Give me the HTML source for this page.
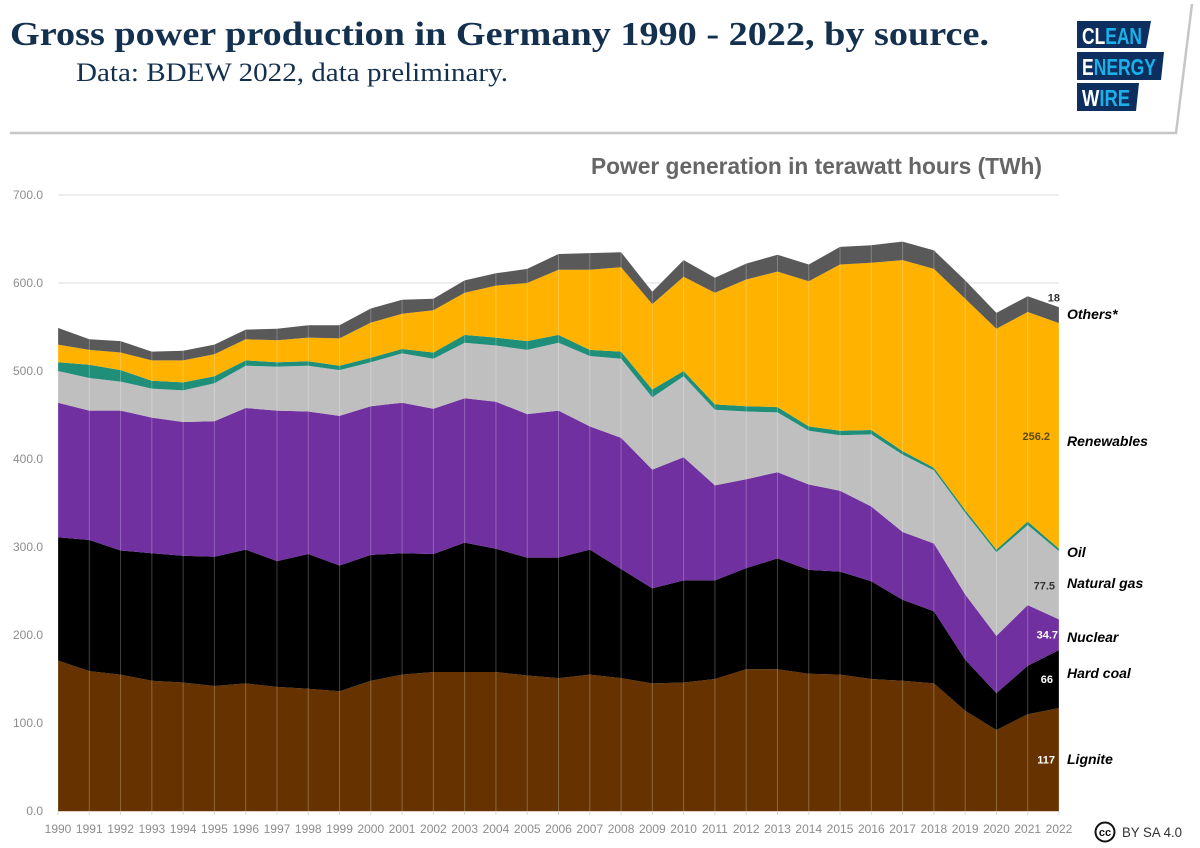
<!DOCTYPE html>
<html lang="en">
<head>
<meta charset="utf-8">
<title>Gross power production in Germany 1990 - 2022, by source</title>
<style>
html,body{margin:0;padding:0;background:#fff;}
body{width:1200px;height:848px;overflow:hidden;}
svg{display:block;}
text{font-family:"Liberation Sans",sans-serif;}
.serif{font-family:"Liberation Serif",serif;}
.name{font-weight:700;font-style:italic;font-size:14px;fill:#000;}
.tick{font-size:12px;fill:#8c8c8c;}
.logo{font-weight:700;font-size:23px;}
</style>
</head>
<body>
<svg id="chart" width="1200" height="848" viewBox="0 0 1200 848" xmlns="http://www.w3.org/2000/svg">
  <g>
    <polyline points="10,133 1176,133 1192,4" fill="none" stroke="#c6c6c6" stroke-width="2.5"/>
    <text class="serif" x="10" y="45" font-size="34" font-weight="700" fill="#14304f" textLength="979" lengthAdjust="spacingAndGlyphs">Gross power production in Germany 1990 - 2022, by source.</text>
    <text class="serif" x="76" y="81" font-size="26" fill="#14304f" textLength="432" lengthAdjust="spacingAndGlyphs">Data: BDEW 2022, data preliminary.</text>
  </g>
  <g>
    <polygon points="1077,21 1151,21 1146,48 1077,48" fill="#0c2f5f"/>
    <text class="logo" x="1082" y="44" textLength="60" lengthAdjust="spacingAndGlyphs"><tspan fill="#fff">CL</tspan><tspan fill="#1cb0e8">EAN</tspan></text>
    <polygon points="1077,52 1164,52 1161,80 1077,80" fill="#0c2f5f"/>
    <text class="logo" x="1082" y="75" textLength="74" lengthAdjust="spacingAndGlyphs"><tspan fill="#fff">E</tspan><tspan fill="#1cb0e8">NERGY</tspan></text>
    <polygon points="1077,83 1139,83 1136,111 1077,111" fill="#0c2f5f"/>
    <text class="logo" x="1082" y="106" textLength="48" lengthAdjust="spacingAndGlyphs"><tspan fill="#fff">W</tspan><tspan fill="#1cb0e8">IRE</tspan></text>
  </g>
  <text x="591" y="174" font-size="23" font-weight="700" fill="#666666" textLength="451" lengthAdjust="spacingAndGlyphs">Power generation in terawatt hours (TWh)</text>
  <g id="grid"></g>
  <g id="yaxis"></g>
  <g id="areas"></g>
  <g id="yearlines"></g>
  <g id="xaxis"></g>
  <g id="values"></g>
  <g id="names"></g>
  <g>
    <circle cx="1105" cy="832" r="9.5" fill="#fff" stroke="#111" stroke-width="2"/>
    <text x="1105" y="836" font-size="11" font-weight="700" text-anchor="middle" fill="#111">cc</text>
    <text x="1122" y="837" font-size="14" fill="#333" textLength="60" lengthAdjust="spacingAndGlyphs">BY SA 4.0</text>
  </g>
</svg>
<script>
const years = [1990,1991,1992,1993,1994,1995,1996,1997,1998,1999,2000,2001,2002,2003,2004,2005,2006,2007,2008,2009,2010,2011,2012,2013,2014,2015,2016,2017,2018,2019,2020,2021,2022];
const yTicks = [0,100,200,300,400,500,600,700];
const lignite = [171,159,155,148,146,142,145,141,139,136,148,155,158,158,158,154,151,155,151,145,146,150,161,161,156,155,150,148,145,114,92,110,117];
const hardCoal = [140,149,141,145,144,147,152,143,153,143,143,138,134,147,140,134,137,142,124,108,116,112,115,126,118,117,111,92,82,58,42,55,66];
const nuclear = [153,147,159,154,152,154,161,171,162,170,169,171,165,164,167,163,167,140,149,135,140,108,101,98,97,92,85,77,77,74,65,69,34.7];
const naturalGas = [36,37,33,33,36,43,48,50,52,52,50,56,57,63,64,73,77,80,90,82,92,86,77,68,61,63,82,88,83,93,95,91,77.5];
const oil = [10,15,13,9,9,8,6,5,5,5,5,5,7,9,9,10,9,7,8,9,6,6,6,6,5,5,5,4,3,3,3,4,3];
const renewables = [20,17,20,23,25,25,24,25,27,31,40,40,48,48,59,66,74,91,96,97,107,127,144,154,165,189,190,217,226,240,251,238,256.2];
const others = [19,12,13,10,11,11,11,13,14,15,16,16,13,14,14,16,18,19,17,14,19,17,18,19,19,20,20,21,21,21,18,18,18];

const NS = 'http://www.w3.org/2000/svg';
const x = i => 58 + i * (1059 - 58) / (years.length - 1);
const y = v => 811 - v * (811 - 195) / 700;
const make = (tag, parentId) => document.getElementById(parentId).appendChild(document.createElementNS(NS, tag));

yTicks.forEach(t => {
  if (t > 0) {
    const g = make('line', 'grid');
    
    
    g.setAttribute('x1', 58);
    g.setAttribute('x2', 1059);
    g.setAttribute('y1', y(t));
    g.setAttribute('y2', y(t));
    g.setAttribute('stroke', '#dcdcdc');
    g.setAttribute('stroke-width', '1');
  }
  const l = make('text', 'yaxis');
  
  
  l.setAttribute('class', 'tick');
  l.setAttribute('x', 43);
  l.setAttribute('y', y(t) + 4);
  l.setAttribute('text-anchor', 'end');
  l.textContent = t.toFixed(1);
});

const series = [
  {key:'lignite', vals:lignite, color:'#663300', label:'117', lc:'#fff', lx:1055, name:'Lignite', ny:764},
  {key:'hard-coal', vals:hardCoal, color:'#000000', label:'66', lc:'#fff', lx:1053, name:'Hard coal', ny:678},
  {key:'nuclear', vals:nuclear, color:'#7030a0', label:'34.7', lc:'#fff', lx:1058, name:'Nuclear', ny:642},
  {key:'natural-gas', vals:naturalGas, color:'#bfbfbf', label:'77.5', lc:'#333', lx:1055, name:'Natural gas', ny:588},
  {key:'oil', vals:oil, color:'#1f8f7a', label:'', lc:'#333', lx:1055, name:'Oil', ny:557},
  {key:'renewables', vals:renewables, color:'#ffb300', label:'256.2', lc:'#5c4a14', lx:1050, name:'Renewables', ny:446},
  {key:'others', vals:others, color:'#595959', label:'18', lc:'#333', lx:1060, name:'Others*', ny:319}
];

let base = years.map(() => 0);
series.forEach(s => {
  const top = base.map((b, i) => b + s.vals[i]);
  const pts = top.map((v, i) => x(i).toFixed(1) + ',' + y(v).toFixed(1));
  for (let i = years.length - 1; i >= 0; i--) pts.push(x(i).toFixed(1) + ',' + y(base[i]).toFixed(1));
  const p = make('polygon', 'areas');
  
  
  p.setAttribute('points', pts.join(' '));
  p.setAttribute('fill', s.color);

  const last = years.length - 1;
  if (s.label) {
    const t = make('text', 'values');
    
    
    t.setAttribute('x', s.lx);
    const mid = y((base[last] + top[last]) / 2);
    t.setAttribute('y', (s.key === 'others' ? y(top[last]) - 6 : mid + 4));
    t.setAttribute('text-anchor', 'end');
    t.setAttribute('font-size', '11');
    t.setAttribute('font-weight', '700');
    t.setAttribute('fill', s.lc);
    t.textContent = s.label;
  }
  const n = make('text', 'names');
  
  
  n.setAttribute('class', 'name');
  n.setAttribute('x', 1067);
  n.setAttribute('y', s.ny);
  n.textContent = s.name;
  base = top;
});

years.forEach((yr, i) => {
  const v = make('line', 'yearlines');
  
  
  v.setAttribute('x1', x(i));
  v.setAttribute('x2', x(i));
  v.setAttribute('y1', y(base[i]));
  v.setAttribute('y2', 811);
  v.setAttribute('stroke', '#ffffff');
  v.setAttribute('stroke-opacity', '0.25');
  v.setAttribute('stroke-width', '1');

  const tk = make('line', 'xaxis');
  
  
  tk.setAttribute('x1', x(i));
  tk.setAttribute('x2', x(i));
  tk.setAttribute('y1', 811);
  tk.setAttribute('y2', 815);
  tk.setAttribute('stroke', '#d9d9d9');
  tk.setAttribute('stroke-width', '1');

  const l = make('text', 'xaxis');
  
  
  l.setAttribute('class', 'tick');
  l.setAttribute('x', x(i));
  l.setAttribute('y', 833);
  l.setAttribute('text-anchor', 'middle');
  l.textContent = yr;
});

const axisLine = make('line', 'xaxis');


axisLine.setAttribute('x1', 58);
axisLine.setAttribute('x2', 1059);
axisLine.setAttribute('y1', 811.5);
axisLine.setAttribute('y2', 811.5);
axisLine.setAttribute('stroke', '#e3cdbd');
axisLine.setAttribute('stroke-width', '1');
</script>
</body>
</html>
